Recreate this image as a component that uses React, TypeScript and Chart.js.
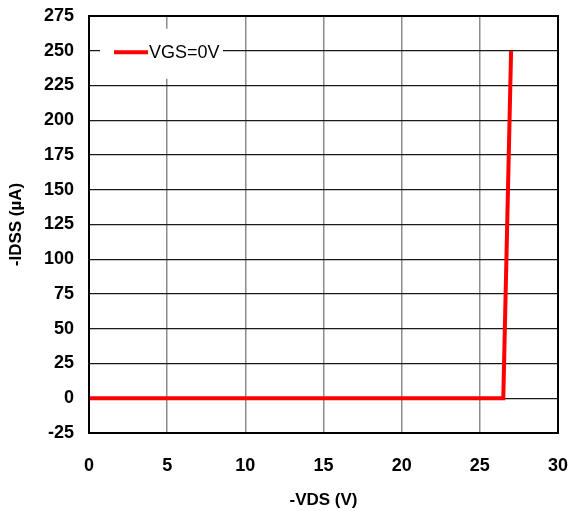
import React, { useEffect, useRef } from "react";
import { Chart, registerables } from "chart.js";

Chart.register(...registerables);

const seriesLabel = "VGS=0V";
const vdsValues = [0, 26.5, 27];
const idssValues = [0, 0, 250];
const xTitle = "-VDS (V)";
const yTitle = "-IDSS (µA)";

const FONT = "'Liberation Sans', Arial, sans-serif";

const legendBoxPlugin = {
  id: "legendBox",
  beforeDatasetsDraw(chart: any) {
    const { ctx, chartArea } = chart;
    const yScale = chart.scales.y;
    const yPix = yScale.getPixelForValue(250);
    ctx.save();
    ctx.fillStyle = "#ffffff";
    ctx.fillRect(chartArea.left + 11, yPix - 22, 123, 50);
    ctx.strokeStyle = "#ff0000";
    ctx.lineWidth = 4;
    ctx.beginPath();
    ctx.moveTo(chartArea.left + 25, yPix + 1.5);
    ctx.lineTo(chartArea.left + 59, yPix + 1.5);
    ctx.stroke();
    ctx.fillStyle = "#000000";
    ctx.font = `18px ${FONT}`;
    ctx.textAlign = "left";
    ctx.textBaseline = "middle";
    ctx.fillText(seriesLabel, chartArea.left + 60, yPix + 2);
    ctx.restore();
  },
  afterDraw(chart: any) {
    const { ctx, chartArea } = chart;
    ctx.save();
    ctx.strokeStyle = "#000000";
    ctx.lineWidth = 2;
    ctx.strokeRect(chartArea.left, chartArea.top, chartArea.right - chartArea.left, chartArea.bottom - chartArea.top);
    ctx.restore();
  },
};

export default function App() {
  const ref = useRef<HTMLCanvasElement | null>(null);
  useEffect(() => {
    document.body.style.margin = "0";
    if (!ref.current) return;
    const points = vdsValues.map((x, i) => ({ x, y: idssValues[i] }));
    const chart = new Chart(ref.current, {
      type: "line",
      data: {
        datasets: [
          {
            label: seriesLabel,
            data: points,
            borderColor: "#ff0000",
            backgroundColor: "#ff0000",
            borderWidth: 4,
            pointRadius: 0,
            tension: 0,
          },
        ],
      },
      options: {
        responsive: false,
        animation: false,
        devicePixelRatio: 1,
        layout: { padding: { top: 16, right: 17, left: 0, bottom: 0 } },
        plugins: { legend: { display: false }, tooltip: { enabled: false } },
        scales: {
          x: {
            type: "linear",
            min: 0,
            max: 30,
            ticks: {
              stepSize: 5,
              padding: 22,
              color: "#000",
              font: { family: FONT, size: 18, weight: "bold" },
            },
            grid: { color: "#8c8c8c", lineWidth: 1.5, drawTicks: false },
            border: { display: false },
            title: {
              display: true,
              text: xTitle,
              color: "#000",
              font: { family: FONT, size: 17, weight: "bold" },
              padding: { top: 16, bottom: 0 },
            },
            afterFit(scale: any) {
              scale.height = 78;
              scale.paddingLeft = 0;
              scale.paddingRight = 0;
            },
          },
          y: {
            type: "linear",
            min: -25,
            max: 275,
            ticks: {
              stepSize: 25,
              padding: 15,
              color: "#000",
              font: { family: FONT, size: 18, weight: "bold" },
            },
            grid: { color: "#1a1a1a", lineWidth: 1.2, drawTicks: false },
            border: { display: false },
            title: {
              display: true,
              text: yTitle,
              color: "#000",
              font: { family: FONT, size: 17, weight: "bold" },
              padding: { top: 6, bottom: 10 },
            },
            afterFit(scale: any) {
              scale.width = 89;
              scale.paddingTop = 0;
              scale.paddingBottom = 0;
            },
          },
        },
      },
      plugins: [legendBoxPlugin],
    });
    return () => chart.destroy();
  }, []);
  return <canvas ref={ref} width={575} height={511} style={{ display: "block", width: 575, height: 511 }} />;
}
